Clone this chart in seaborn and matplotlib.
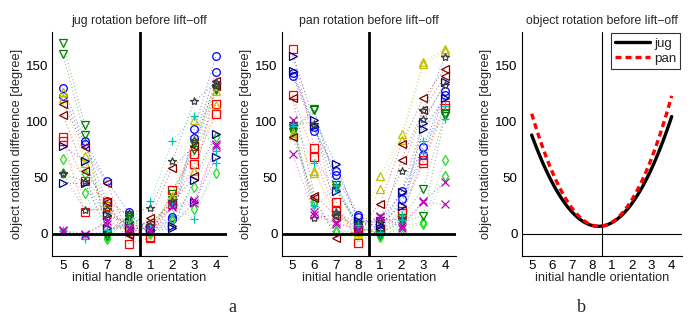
import numpy as np
import pandas as pd
import matplotlib
matplotlib.use("Agg")
import matplotlib.pyplot as plt
import seaborn as sns

sns.set_theme(style="white")
plt.rcParams['font.family'] = ['Liberation Sans', 'DejaVu Sans']

# ---- data (display order of handle orientations) ----
orient_labels = ["5", "6", "7", "8", "1", "2", "3", "4"]
positions = [1, 2, 3, 4, 5, 6, 7, 8]

series_names = ["o", "s", "d", "v", "^", "<", ">", "*", "+", "x"]
series_colors = ["#0000ff", "#ff0000", "#22dd22", "#007f00", "#bfbf00",
                 "#7f0000", "#00007f", "#404040", "#00bfbf", "#bf00bf"]

# jug: two repetitions (A, B) per series
jug_o_A = [130, 83, 47, 19, 5, 15, 93, 159]
jug_o_B = [123, 80, 29, 17, 3, 13, 85, 144]
jug_s_A = [86, 47, 28, -9, -4, 39, 71, 116]
jug_s_B = [83, 19, 25, 5, -3, 26, 62, 107]
jug_d_A = [67, 53, -5, 14, 0, 13, 42, 86]
jug_d_B = [54, 36, -3, 12, 1, 11, 22, 54]
jug_v_A = [170, 97, -2, 17, 2, 35, 80, 130]
jug_v_B = [160, 88, 0, 15, 3, 30, 75, 128]
jug_t_A = [126, 69, 26, 8, 5, 34, 101, 127]
jug_t_B = [121, 63, 22, 6, 3, 30, 56, 115]
jug_l_A = [116, 77, 45, 0, 14, 59, 78, 136]
jug_l_B = [106, 56, 28, -1, 10, 27, 51, 132]
jug_r_A = [78, 65, 17, 10, 2, 5, 48, 89]
jug_r_B = [45, 45, 5, 5, 4, 7, 28, 68]
jug_st_A = [54, 21, 22, 18, 23, 65, 118, 135]
jug_st_B = [53, 47, 15, 10, 8, 29, 84, 133]
jug_p_A = [3, -5, 0, 11, 29, 83, 105, 74]
jug_p_B = [2, -2, 3, 8, 5, 25, 13, 63]
jug_x_A = [2, -1, 11, 5, 4, 25, 30, 80]
jug_x_B = [3, 0, 9, 4, 2, 24, 27, 78]

# pan
pan_o_A = [141, 92, 56, 17, 3, 38, 77, 127]
pan_o_B = [143, 95, 52, 15, 2, 31, 70, 124]
pan_s_A = [165, 76, 28, -8, 4, 20, 66, 115]
pan_s_B = [124, 68, 20, 3, 2, 18, 63, 112]
pan_d_A = [95, 28, 2, 2, -3, 7, 10, 66]
pan_d_B = [92, 26, 1, 1, -2, 4, 9, 51]
pan_v_A = [93, 111, 43, 7, -1, 14, 40, 107]
pan_v_B = [91, 110, 41, 5, 0, 10, 16, 105]
pan_t_A = [90, 56, 17, 1, 51, 89, 153, 165]
pan_t_B = [88, 54, 15, 0, 40, 84, 151, 163]
pan_l_A = [121, 34, 16, 5, 26, 80, 121, 147]
pan_l_B = [86, 32, -4, 3, 4, 66, 110, 141]
pan_r_A = [159, 101, 62, 11, 10, 37, 99, 135]
pan_r_B = [145, 96, 38, 9, 8, 25, 93, 121]
pan_st_A = [99, 98, 19, 9, 14, 56, 110, 158]
pan_st_B = [97, 14, 17, 7, 12, 13, 102, 133]
pan_p_A = [98, 63, 43, 8, 1, 17, 83, 102]
pan_p_B = [96, 25, 40, 6, 0, 12, 72, 114]
pan_x_A = [101, 19, 10, 4, 16, 7, 29, 46]
pan_x_B = [71, 17, 9, 3, 15, 5, 28, 26]

# fitted curves (read at tick positions)
jug_fit = [88, 46.5, 19.6, 7.3, 9.7, 26.7, 58.3, 104.5]
pan_fit = [107, 56.3, 23.1, 7.7, 10.0, 30.0, 67.7, 123]

jug_sets = [(jug_o_A, jug_o_B), (jug_s_A, jug_s_B), (jug_d_A, jug_d_B),
            (jug_v_A, jug_v_B), (jug_t_A, jug_t_B), (jug_l_A, jug_l_B),
            (jug_r_A, jug_r_B), (jug_st_A, jug_st_B), (jug_p_A, jug_p_B),
            (jug_x_A, jug_x_B)]
pan_sets = [(pan_o_A, pan_o_B), (pan_s_A, pan_s_B), (pan_d_A, pan_d_B),
            (pan_v_A, pan_v_B), (pan_t_A, pan_t_B), (pan_l_A, pan_l_B),
            (pan_r_A, pan_r_B), (pan_st_A, pan_st_B), (pan_p_A, pan_p_B),
            (pan_x_A, pan_x_B)]


def build_df(sets):
    rows = []
    for name, (a, b) in zip(series_names, sets):
        for rep, vals in (("A", a), ("B", b)):
            for p, v in zip(positions, vals):
                rows.append(dict(series=name, rep=rep, pos=p, value=v))
    return pd.DataFrame(rows)


W, H = 696, 322
fig = plt.figure(figsize=(W / 100, H / 100), dpi=100)
fig.patch.set_facecolor("white")

bottom = (H - 256) / H
height = (256 - 32) / H
ax1 = fig.add_axes([52 / W, bottom, 175 / W, height])
ax2 = fig.add_axes([281.7 / W, bottom, 174.3 / W, height])
ax3 = fig.add_axes([521.7 / W, bottom, 160 / W, height])

FS = 8.6


def style_axes(ax, title):
    ax.set_facecolor("white")
    ax.set_xlim(0.5, 8.5)
    ax.set_ylim(-20, 180)
    ax.set_xticks(positions)
    ax.set_xticklabels(orient_labels)
    ax.set_yticks([0, 50, 100, 150])
    ax.tick_params(direction="in", length=3, width=0.6, labelsize=FS + 1,
                   colors="black", pad=3)
    for s in ["top", "right"]:
        ax.spines[s].set_visible(False)
    for s in ["left", "bottom"]:
        ax.spines[s].set_color("black")
        ax.spines[s].set_linewidth(0.8)
    ax.set_xlabel("initial handle orientation", fontsize=FS + 0.6, labelpad=0)
    ax.set_ylabel("object rotation difference [degree]", fontsize=FS + 0.6,
                  labelpad=2)
    ax.set_title(title, fontsize=FS + 0.2, pad=6)
    ax.grid(False)


for ax, sets, title in ((ax1, jug_sets, "jug rotation before lift\u2212off"),
                        (ax2, pan_sets, "pan rotation before lift\u2212off")):
    df = build_df(sets)
    for name, color in zip(series_names, series_colors):
        sub = df[df.series == name]
        sns.lineplot(data=sub, x="pos", y="value", units="rep",
                     estimator=None, color=color, linestyle=(0, (1, 2.5)),
                     linewidth=0.7, alpha=0.55, ax=ax, legend=False, zorder=2)
    for name, color in zip(series_names, series_colors):
        sub = df[df.series == name]
        filled = name not in ("+", "x")
        sns.lineplot(data=sub, x="pos", y="value", units="rep",
                     estimator=None, color=color, linestyle="none",
                     marker=name, markersize=5.5 if name != "*" else 6,
                     markerfacecolor="none" if filled else color,
                     markeredgecolor=color, markeredgewidth=0.9,
                     ax=ax, legend=False, zorder=3)
    ax.axhline(0, color="black", lw=2, zorder=4)
    ax.axvline(4.5, color="black", lw=2, zorder=4)
    style_axes(ax, title)

# panel b: fitted curves
sns.regplot(x=positions, y=jug_fit, order=2, ci=None, scatter=False,
            truncate=True, ax=ax3, label="jug",
            line_kws=dict(color="black", lw=2.4))
sns.regplot(x=positions, y=pan_fit, order=2, ci=None, scatter=False,
            truncate=True, ax=ax3, label="pan",
            line_kws=dict(color="red", lw=2.4, ls=(0, (1.8, 1.2))))
ax3.axhline(0, color="black", lw=0.8, zorder=1)
ax3.axvline(4.5, color="black", lw=0.8, zorder=1)
style_axes(ax3, "object rotation before lift\u2212off")
handles, labels = ax3.get_legend_handles_labels()
leg = ax3.legend(handles, labels, loc="upper right", fontsize=FS + 1,
                 frameon=True, fancybox=False, handlelength=2.6, borderpad=0.3,
                 labelspacing=0.2, handletextpad=0.3, borderaxespad=0.1)
leg.get_frame().set_edgecolor("black")
leg.get_frame().set_linewidth(0.8)

fig.text(232 / W, 1 - 307 / H, "a", fontsize=13, family="Liberation Serif",
         ha="center", va="center")
fig.text(581 / W, 1 - 307 / H, "b", fontsize=13, family="Liberation Serif",
         ha="center", va="center")

fig.savefig("out.png", dpi=100, facecolor="white")
